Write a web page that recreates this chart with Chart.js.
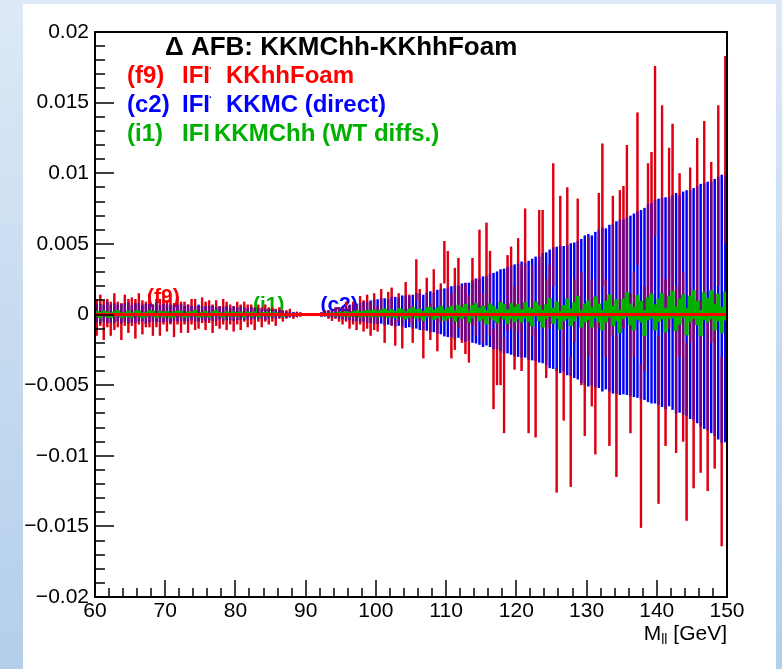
<!DOCTYPE html>
<html>
<head>
<meta charset="utf-8">
<script src="https://cdn.jsdelivr.net/npm/chart.js@4.4.1/dist/chart.umd.min.js"></script>
<style>
  html, body { margin: 0; padding: 0; }
  body {
    width: 782px; height: 669px; overflow: hidden; position: relative;
    background: linear-gradient(180deg, #dde9f6 0%, #c6dbf0 50%, #b4cfeb 100%);
  }
  #page { position: absolute; left: 23px; top: 4px; width: 753px; height: 665px; background: #fff; }
  #c { position: absolute; left: 0; top: 0; }
</style>
</head>
<body>
<div id="page"></div>
<canvas id="c" width="782" height="669"></canvas>
<script>
// Ось X: M_ll от 60 до 150 ГэВ, 180 бинов по 0.5 ГэВ
const xMin = 60, xMax = 150;
const yMin = -0.02, yMax = 0.02;
const UNIT = 1e-3; // значения ниже заданы в единицах 10^-3

const xTicks = [60, 70, 80, 90, 100, 110, 120, 130, 140, 150];
const xTickLabels = ['60', '70', '80', '90', '100', '110', '120', '130', '140', '150'];
const yTicks = [-0.02, -0.015, -0.01, -0.005, 0, 0.005, 0.01, 0.015, 0.02];
const yTickLabels = ['\u22120.02', '\u22120.015', '\u22120.01', '\u22120.005', '0', '0.005', '0.01', '0.015', '0.02'];

// (f9) IFI KKhhFoam
const f9Val = [
  -0.2, 0.3, -0.4, 0.1, -0.3, 0.2, 0.0, -0.5, 0.3, -0.1, 0.2, -0.3, 0.4, -0.2, 0.0, 0.3, -0.4, 0.1, -0.2, 0.3,
  -0.1, 0.2, -0.4, 0.3, -0.2, 0.1, -0.3, 0.2, 0.0, -0.2, 0.3, -0.1, 0.2, -0.3, 0.1, -0.2, 0.2, -0.1, 0.0, -0.3,
  0.1, -0.2, 0.2, -0.1, 0.0, -0.3, 0.1, -0.2, 0.1, -0.1, 0.0, -0.2, 0.1, -0.1, 0.0, 0.1, -0.1, 0.0, 0.0, 0.0,
  0.0, 0.0, 0.0, 0.0, 0.0, 0.1, 0.0, -0.1, 0.1, 0.0, -0.1, 0.2, -0.2, 0.1, -0.2, 0.3, -0.1, 0.2, -0.3, 0.2,
  -0.3, 0.8, -0.9, 0.8, 0.55, -1.3, 0.5, -1.2, 1.25, 0.4, -0.7, 2.45, 0.65, -1.75, 1.5, -0.5, 1.85, -1.2, 0.8, 3.7,
  2.0, -0.8, 0.4, 1.5, 0.0, -0.3, -1.0, 1.6, 0.5, 3.0, -0.25, 3.5, 1.5, -3.85, -2.4, -2.0, -5.0, 1.5, 1.9, -0.95,
  2.1, -0.25, 3.75, -4.45, 1.0, -4.85, 3.45, 3.2, -1.0, 1.25, 6.35, -8.2, 4.2, -3.5, 4.75, -7.6, 0.25, 4.0, -1.0, -4.55,
  1.25, -2.0, -5.2, 3.8, 7.05, -0.25, -4.65, 3.45, -6.5, 3.9, 4.05, 6.75, -3.45, 0.0, 8.9, -9.3, -1.0, 5.35, 6.0, 11.55,
  -7.45, 8.15, -3.4, 5.4, 7.25, -3.9, 3.5, -3.0, -8.3, 4.2, -6.15, 6.25, -5.1, 7.35, -6.25, 4.4, -4.7, 8.4, -9.7, 11.65
];
const f9Err = [
  1.3, 1.1, 1.4, 1.0, 1.2, 1.3, 0.9, 1.3, 1.1, 1.2, 1.0, 1.4, 1.1, 1.2, 0.9, 1.2, 1.1, 1.0, 1.3, 1.0,
  1.1, 0.9, 1.2, 1.0, 1.1, 0.8, 1.0, 0.9, 1.1, 0.8, 0.9, 1.0, 0.8, 1.0, 0.9, 0.8, 0.9, 1.0, 0.7, 0.9,
  0.8, 0.9, 0.7, 0.8, 0.7, 0.8, 0.6, 0.7, 0.6, 0.6, 0.5, 0.6, 0.4, 0.4, 0.3, 0.3, 0.2, 0.2, 0.15, 0.1,
  0.05, 0.05, 0.08, 0.1, 0.15, 0.2, 0.3, 0.35, 0.4, 0.5, 0.6, 0.7, 0.8, 0.8, 0.9, 1.0, 1.1, 1.2, 1.2, 1.3,
  0.9, 1.0, 1.1, 0.8, 1.35, 0.9, 1.0, 1.2, 1.05, 1.0, 1.3, 1.45, 1.15, 1.35, 1.1, 1.3, 1.35, 1.4, 1.4, 1.5,
  2.5, 2.3, 2.9, 2.5, 2.0, 2.5, 2.4, 2.4, 2.0, 3.0, 1.75, 3.0, 3.0, 2.85, 2.6, 3.0, 3.4, 2.7, 2.9, 2.95,
  3.3, 3.75, 3.75, 3.95, 2.5, 3.85, 3.95, 4.2, 3.5, 2.25, 4.35, 4.4, 4.2, 4.0, 4.25, 4.6, 2.25, 4.2, 4.0, 4.05,
  4.25, 4.5, 4.7, 4.8, 5.05, 2.75, 4.65, 4.95, 5.0, 4.9, 5.05, 5.25, 4.95, 3.0, 5.4, 5.8, 3.0, 5.35, 5.5, 6.05,
  5.95, 6.65, 5.9, 6.4, 6.25, 5.9, 6.5, 6.0, 6.3, 6.2, 6.15, 6.25, 6.1, 6.35, 6.25, 6.4, 6.2, 6.4, 6.7, 6.65
];

// (c2) IFI KKMC (direct)
const c2Val = [
  0.1, 0.05, 0.1, 0.15, 0.05, 0.1, 0.1, 0.05, 0.15, 0.1, 0.05, 0.1, 0.15, 0.1, 0.05, 0.1, 0.1, 0.15, 0.05, 0.1,
  0.1, 0.05, 0.1, 0.1, 0.15, 0.05, 0.1, 0.1, 0.05, 0.1, 0.1, 0.05, 0.1, 0.1, 0.05, 0.1, 0.05, 0.1, 0.05, 0.05,
  0.05, 0.1, 0.05, 0.05, 0.1, 0.05, 0.05, 0.05, 0.0, 0.05, 0.05, 0.0, 0.05, 0.0, 0.0, 0.0, 0.0, 0.0, 0.0, 0.0,
  0.0, 0.0, 0.0, 0.0, 0.0, 0.05, 0.05, 0.05, 0.1, 0.1, 0.1, 0.1, 0.15, 0.1, 0.15, 0.15, 0.2, 0.15, 0.2, 0.2,
  0.2, 0.25, 0.2, 0.2, 0.25, 0.2, 0.2, 0.25, 0.2, 0.2, 0.2, 0.25, 0.2, 0.15, 0.2, 0.2, 0.15, 0.2, 0.2, 0.15,
  0.15, 0.2, 0.15, 0.2, 0.2, 0.15, 0.2, 0.2, 0.25, 0.2, 0.2, 0.25, 0.3, 0.25, 0.3, 0.3, 0.25, 0.3, 0.3, 0.3,
  0.3, 0.35, 0.3, 0.3, 0.35, 0.4, 0.35, 0.45, 0.4, 0.4, 0.45, 0.4, 0.35, 0.4, 0.3, 0.35, 0.3, 0.3, 0.25, 0.3,
  0.3, 0.3, 0.35, 0.4, 0.35, 0.4, 0.45, 0.4, 0.5, 0.5, 0.55, 0.6, 0.6, 0.65, 0.7, 0.7, 0.75, 0.8, 0.8, 0.9,
  0.9, 0.85, 0.8, 0.9, 0.85, 0.8, 0.75, 0.8, 0.8, 0.7, 0.75, 0.7, 0.65, 0.6, 0.6, 0.5, 0.5, 0.45, 0.4, 0.35
];
const c2Err = [
  0.65, 0.7, 0.6, 0.75, 0.65, 0.7, 0.6, 0.7, 0.65, 0.75, 0.6, 0.7, 0.65, 0.6, 0.7, 0.65, 0.6, 0.7, 0.6, 0.65,
  0.6, 0.65, 0.55, 0.6, 0.6, 0.55, 0.6, 0.5, 0.55, 0.6, 0.5, 0.55, 0.5, 0.55, 0.5, 0.45, 0.5, 0.5, 0.45, 0.5,
  0.45, 0.5, 0.45, 0.4, 0.45, 0.4, 0.4, 0.35, 0.4, 0.35, 0.3, 0.3, 0.28, 0.25, 0.22, 0.2, 0.18, 0.15, 0.12, 0.1,
  0.06, 0.06, 0.08, 0.1, 0.15, 0.2, 0.25, 0.3, 0.35, 0.4, 0.45, 0.5, 0.55, 0.6, 0.62, 0.68, 0.72, 0.75, 0.8, 0.85,
  0.88, 0.9, 0.95, 0.92, 1.0, 1.05, 1.0, 1.1, 1.15, 1.1, 1.2, 1.25, 1.3, 1.25, 1.35, 1.45, 1.4, 1.55, 1.6, 1.7,
  1.75, 1.8, 1.9, 1.85, 2.0, 2.1, 2.05, 2.2, 2.3, 2.35, 2.5, 2.45, 2.6, 2.7, 2.75, 2.9, 3.0, 3.05, 3.15, 3.25,
  3.3, 3.4, 3.35, 3.5, 3.6, 3.7, 3.75, 3.9, 4.0, 4.2, 4.3, 4.4, 4.5, 4.45, 4.6, 4.7, 4.8, 4.9, 5.1, 5.3,
  5.4, 5.3, 5.5, 5.6, 5.8, 5.7, 5.9, 6.0, 6.1, 6.2, 6.2, 6.3, 6.4, 6.5, 6.6, 6.7, 6.8, 7.0, 7.1, 7.2,
  7.3, 7.4, 7.5, 7.4, 7.6, 7.8, 7.7, 7.9, 8.0, 8.1, 8.2, 8.4, 8.6, 8.7, 8.8, 8.9, 9.1, 9.3, 9.5, 9.4
];

// (i1) IFI KKMChh (WT diffs.)
const i1Val = [
  0.05, -0.05, 0.1, 0.0, -0.05, 0.05, 0.1, -0.05, 0.0, 0.05, -0.05, 0.1, 0.05, -0.05, 0.0, 0.1, 0.05, -0.05, 0.05, 0.0,
  0.05, -0.05, 0.0, 0.1, 0.05, -0.05, 0.0, 0.05, 0.1, -0.05, 0.0, 0.05, -0.05, 0.05, 0.1, 0.0, -0.05, 0.05, 0.0, 0.05,
  0.0, 0.05, -0.05, 0.05, 0.0, 0.05, -0.05, 0.0, 0.05, 0.0, 0.0, 0.05, 0.0, -0.05, 0.0, 0.0, 0.0, 0.0, 0.0, 0.0,
  0.0, 0.0, 0.0, 0.0, 0.0, 0.0, 0.0, 0.0, 0.0, 0.05, 0.0, 0.05, 0.0, 0.05, 0.1, 0.0, 0.05, 0.1, 0.05, 0.1,
  0.05, 0.1, 0.15, 0.05, 0.1, 0.0, 0.15, 0.1, -0.05, 0.1, 0.2, 0.05, 0.1, -0.1, 0.15, 0.2, 0.0, 0.1, 0.25, -0.05,
  0.1, 0.2, -0.1, 0.25, 0.1, 0.3, -0.15, 0.2, 0.35, 0.0, 0.15, -0.2, 0.3, 0.1, -0.1, 0.35, 0.2, -0.15, 0.25, 0.0,
  0.2, -0.1, 0.3, 0.0, -0.2, 0.4, 0.1, -0.3, 0.2, 0.5, -0.1, 0.3, -0.4, 0.1, 0.4, -0.2, 0.2, 0.6, -0.3, 0.1,
  0.3, -0.2, 0.5, 0.1, -0.4, 0.2, 0.6, -0.1, 0.3, -0.5, 0.4, 0.7, 0.0, -0.3, 0.5, 0.2, -0.6, 0.4, 0.6, -0.2,
  0.3, 0.6, -0.4, 0.5, 0.7, -0.3, 0.2, 0.6, -0.5, 0.4, 0.7, 0.1, -0.6, 0.6, 0.3, 0.7, -0.2, 0.5, -0.4, 0.6
];
const i1Err = [
  0.18, 0.2, 0.16, 0.2, 0.18, 0.16, 0.2, 0.18, 0.15, 0.2, 0.18, 0.16, 0.2, 0.18, 0.16, 0.2, 0.18, 0.15, 0.18, 0.2,
  0.16, 0.18, 0.2, 0.16, 0.18, 0.15, 0.18, 0.16, 0.2, 0.15, 0.16, 0.18, 0.15, 0.16, 0.18, 0.15, 0.16, 0.15, 0.14, 0.16,
  0.15, 0.14, 0.16, 0.14, 0.15, 0.14, 0.13, 0.14, 0.12, 0.13, 0.12, 0.11, 0.1, 0.1, 0.09, 0.08, 0.08, 0.07, 0.06, 0.06,
  0.05, 0.05, 0.05, 0.06, 0.07, 0.08, 0.1, 0.11, 0.12, 0.13, 0.14, 0.15, 0.16, 0.17, 0.18, 0.19, 0.2, 0.2, 0.22, 0.22,
  0.22, 0.24, 0.25, 0.24, 0.26, 0.25, 0.27, 0.28, 0.27, 0.3, 0.3, 0.32, 0.3, 0.33, 0.34, 0.32, 0.35, 0.36, 0.35, 0.38,
  0.38, 0.4, 0.38, 0.42, 0.4, 0.43, 0.42, 0.45, 0.44, 0.46, 0.45, 0.48, 0.47, 0.5, 0.48, 0.5, 0.52, 0.5, 0.53, 0.52,
  0.5, 0.45, 0.55, 0.5, 0.6, 0.5, 0.55, 0.6, 0.5, 0.65, 0.55, 0.6, 0.65, 0.55, 0.7, 0.6, 0.65, 0.7, 0.6, 0.65,
  0.65, 0.7, 0.75, 0.65, 0.7, 0.75, 0.8, 0.7, 0.75, 0.8, 0.7, 0.85, 0.75, 0.8, 0.85, 0.75, 0.9, 0.8, 0.85, 0.9,
  0.8, 0.9, 0.85, 0.8, 0.95, 0.85, 0.9, 0.8, 0.95, 0.9, 1.0, 0.85, 0.9, 0.95, 0.85, 1.0, 0.9, 0.95, 0.9, 1.0
];

// Подписи внутри графика (координаты в единицах осей)
const tagText = ['(f9)', '(i1)', '(c2)'];
const tagX = [67.4, 82.5, 92.1];
const tagY = [0.00078, 0.00028, 0.00028];

const RED = '#ff0000', BLUE = '#0000ff', GREEN = '#00b000';
const tagColor = [RED, GREEN, BLUE];
const FONT = '"Liberation Sans", Arial, sans-serif';

// Плавающие столбики [значение - ошибка, значение + ошибка] в центрах бинов
function errorBins(vals, errs) {
  const w = (xMax - xMin) / vals.length;
  return vals.map((v, i) => ({ x: xMin + w * (i + 0.5), y: [(v - errs[i]) * UNIT, (v + errs[i]) * UNIT] }));
}

function line(ctx, x1, y1, x2, y2) {
  ctx.beginPath();
  ctx.moveTo(x1, y1);
  ctx.lineTo(x2, y2);
  ctx.stroke();
}

// Рамка, засечки и тексты в стиле ROOT
const rootFrame = {
  id: 'rootFrame',
  beforeDatasetsDraw(chart) {
    const { ctx, scales: { x, y } } = chart;
    ctx.save();
    ctx.font = 'bold 21px ' + FONT;
    ctx.textAlign = 'left';
    ctx.textBaseline = 'alphabetic';
    tagText.forEach((t, i) => {
      ctx.fillStyle = tagColor[i];
      ctx.fillText(t, x.getPixelForValue(tagX[i]), y.getPixelForValue(tagY[i]));
    });
    ctx.restore();
  },
  afterDraw(chart) {
    const { ctx, chartArea: a, scales: { x, y } } = chart;
    ctx.save();

    // засечки оси Y (основные и промежуточные)
    ctx.strokeStyle = '#000';
    ctx.lineWidth = 1.5;
    const yStep = 0.001;
    for (let k = 0; k <= Math.round((yMax - yMin) / yStep); k++) {
      const py = Math.round(y.getPixelForValue(yMin + k * yStep));
      line(ctx, a.left, py, a.left + (k % 5 === 0 ? 19 : 10), py);
    }
    // засечки оси X
    const xStep = 2;
    for (let k = 0; k <= (xMax - xMin) / xStep; k++) {
      const px = Math.round(x.getPixelForValue(xMin + k * xStep));
      line(ctx, px, a.bottom, px, a.bottom - (k % 5 === 0 ? 17 : 9));
    }

    // рамка
    ctx.lineWidth = 2;
    ctx.strokeRect(a.left, a.top, a.right - a.left, a.bottom - a.top);

    // подписи делений
    ctx.fillStyle = '#000';
    ctx.font = '21px ' + FONT;
    ctx.textAlign = 'right';
    ctx.textBaseline = 'middle';
    yTicks.forEach((v, i) => ctx.fillText(yTickLabels[i], a.left - 6, y.getPixelForValue(v)));
    ctx.textAlign = 'center';
    ctx.textBaseline = 'alphabetic';
    xTicks.forEach((v, i) => ctx.fillText(xTickLabels[i], x.getPixelForValue(v), a.bottom + 20));

    // название оси X: M_ll [GeV]
    ctx.textAlign = 'right';
    ctx.fillText(' [GeV]', a.right, a.bottom + 43);
    const wGeV = ctx.measureText(' [GeV]').width;
    ctx.font = '14px ' + FONT;
    const wSub = ctx.measureText('ll').width;
    ctx.fillText('ll', a.right - wGeV, a.bottom + 47);
    ctx.font = '21px ' + FONT;
    ctx.fillText('M', a.right - wGeV - wSub, a.bottom + 43);

    // заголовок и легенда
    ctx.textAlign = 'left';
    ctx.font = 'bold 26px ' + FONT;
    ctx.fillText('\u0394 AFB: KKMChh-KKhhFoam', 165, 55);

    const rows = [
      { c: RED, tag: '(f9)', name: 'KKhhFoam', dot: true, nx: 226, by: 83 },
      { c: BLUE, tag: '(c2)', name: 'KKMC (direct)', dot: true, nx: 226, by: 112 },
      { c: GREEN, tag: '(i1)', name: 'KKMChh (WT diffs.)', dot: false, nx: 214, by: 141 }
    ];
    rows.forEach(r => {
      ctx.fillStyle = r.c;
      ctx.font = 'bold 24px ' + FONT;
      ctx.fillText(r.tag, 127, r.by);
      ctx.fillText('IFI', 182, r.by);
      ctx.fillText(r.name, r.nx, r.by);
      if (r.dot) {
        ctx.font = 'bold 10px ' + FONT;
        ctx.fillText('\u00b7', 209, r.by - 11);
      }
    });

    ctx.restore();
  }
};

const f9Bins = errorBins(f9Val, f9Err);

new Chart(document.getElementById('c'), {
  type: 'bar',
  data: {
    datasets: [
      {
        type: 'line', label: 'zero', order: 1,
        data: [{ x: xMin, y: 0 }, { x: xMax, y: 0 }],
        borderColor: RED, borderWidth: 3, pointRadius: 0
      },
      {
        label: '(i1) IFI KKMChh (WT diffs.)', order: 2, grouped: false,
        data: errorBins(i1Val, i1Err),
        backgroundColor: GREEN, barPercentage: 1.0, categoryPercentage: 1.0
      },
      {
        // красные столбики поверх синих, полупрозрачные: фиолетовые участки
        label: '(f9) overlay', order: 3, grouped: false,
        data: f9Bins,
        backgroundColor: 'rgba(200,0,30,0.6)', barPercentage: 0.68, categoryPercentage: 1.0, inflateAmount: 0
      },
      {
        label: '(c2) IFI KKMC (direct)', order: 4, grouped: false,
        data: errorBins(c2Val, c2Err),
        backgroundColor: BLUE, barPercentage: 0.7, categoryPercentage: 1.0, inflateAmount: 0
      },
      {
        label: '(f9) IFI KKhhFoam', order: 5, grouped: false,
        data: f9Bins,
        backgroundColor: RED, barPercentage: 0.62, categoryPercentage: 1.0, inflateAmount: 0
      }
    ]
  },
  options: {
    responsive: false,
    animation: false,
    devicePixelRatio: 1,
    layout: { padding: { left: 95, right: 55, top: 32, bottom: 72 } },
    plugins: { legend: { display: false }, tooltip: { enabled: false } },
    scales: {
      x: { type: 'linear', min: xMin, max: xMax, offset: false, display: false },
      y: { type: 'linear', min: yMin, max: yMax, display: false }
    }
  },
  plugins: [rootFrame]
});
</script>
</body>
</html>
